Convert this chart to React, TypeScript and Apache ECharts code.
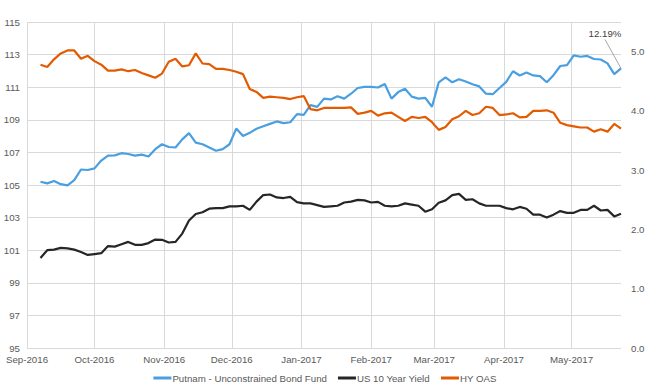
import { useEffect, useRef } from 'react';
import * as echarts from 'echarts';

// ---- data ----
const seriesNames = ['Putnam - Unconstrained Bond Fund', 'US 10 Year Yield', 'HY OAS'];
const monthNames = ['Jan', 'Feb', 'Mar', 'Apr', 'May', 'Jun', 'Jul', 'Aug', 'Sep', 'Oct', 'Nov', 'Dec'];
const axisStart = [2016, 8, 1]; // Sep 1 2016
const firstObs = [2016, 8, 7]; // Sep 7 2016
const stepDays = 3;
const endAnnotation = '12.19%';

// Putnam fund (left axis)
const putnam = [
  105.2, 105.1, 105.25, 105.05, 104.98, 105.3, 105.95, 105.92, 106.02, 106.5,
  106.8, 106.82, 106.95, 106.9, 106.8, 106.86, 106.75, 107.2, 107.5, 107.33,
  107.3, 107.8, 108.18, 107.6, 107.5, 107.3, 107.1, 107.2, 107.5, 108.46,
  108.0, 108.2, 108.45, 108.6, 108.75, 108.9, 108.8, 108.85, 109.35, 109.3,
  109.9, 109.79, 110.3, 110.25, 110.45, 110.3, 110.6, 110.95, 111.02, 111.02,
  110.98, 111.2, 110.3, 110.7, 110.9, 110.42, 110.3, 110.35, 109.8, 111.3,
  111.6, 111.3, 111.49, 111.35, 111.18, 111.05, 110.6, 110.57, 110.95, 111.33,
  111.98, 111.72, 111.9, 111.72, 111.68, 111.3, 111.74, 112.3, 112.35, 112.95,
  112.87, 112.92, 112.73, 112.7, 112.46, 111.8, 112.15,
];

// US 10 year yield (right axis)
const us10y = [
  1.52, 1.65, 1.66, 1.69, 1.68, 1.66, 1.62, 1.57, 1.585, 1.6,
  1.72, 1.71, 1.75, 1.79, 1.74, 1.74, 1.77, 1.83, 1.825, 1.78,
  1.79, 1.93, 2.15, 2.26, 2.29, 2.35, 2.36, 2.36, 2.39, 2.39,
  2.4, 2.33, 2.47, 2.58, 2.59, 2.54, 2.53, 2.55, 2.46, 2.44,
  2.44, 2.41, 2.38, 2.39, 2.4, 2.455, 2.47, 2.5, 2.49, 2.455,
  2.465, 2.4, 2.39, 2.4, 2.44, 2.42, 2.4, 2.3, 2.34, 2.45,
  2.49, 2.58, 2.6, 2.5, 2.51, 2.44, 2.4, 2.4, 2.4, 2.36,
  2.34, 2.38, 2.35, 2.25, 2.25, 2.2, 2.25, 2.31, 2.28, 2.28,
  2.33, 2.33, 2.4, 2.32, 2.33, 2.22, 2.265,
];

// HY OAS (right axis)
const hyOas = [
  4.78, 4.74, 4.87, 4.97, 5.02, 5.02, 4.88, 4.93, 4.84, 4.78,
  4.68, 4.68, 4.7, 4.67, 4.69, 4.64, 4.6, 4.56, 4.63, 4.83,
  4.88, 4.75, 4.77, 4.97, 4.8, 4.79, 4.71, 4.71, 4.69, 4.66,
  4.62, 4.37, 4.32, 4.22, 4.24, 4.23, 4.22, 4.2, 4.23, 4.25,
  4.03, 4.01, 4.05, 4.05, 4.05, 4.05, 4.06, 3.95, 3.97, 4.0,
  3.92, 3.96, 3.97, 3.9, 3.83, 3.9, 3.88, 3.9, 3.81, 3.68,
  3.73, 3.86, 3.91, 4.0, 3.93, 3.96, 4.07, 4.05, 3.93, 3.94,
  3.96, 3.89, 3.9, 4.0, 4.0, 4.01, 3.97, 3.8, 3.76, 3.74,
  3.72, 3.72, 3.65, 3.69, 3.65, 3.78, 3.7,
];

const leftAxis = { min: 95, max: 115, interval: 2 };
const rightAxis = { min: 0, max: 5.5, interval: 1 };

const colors = ['#4A9FE1', '#262626', '#E35B00'];
const FONT = '"Liberation Sans", Arial, sans-serif';
const TEXT = '#595959';
const GRID = '#D9D9D9';
const FS = 9.7;

const obsDates = putnam.map((_, i) =>
  new Date(firstObs[0], firstObs[1], firstObs[2] + i * stepDays).getTime()
);
const pairs = (vals: number[]) => vals.map((v, i) => [obsDates[i], v]);

export default function App() {
  const ref = useRef<HTMLDivElement>(null);

  useEffect(() => {
    if (!ref.current) return;
    const chart = echarts.init(ref.current, undefined, { renderer: 'svg' });
    const xMin = new Date(axisStart[0], axisStart[1], axisStart[2]).getTime();
    const xMax = obsDates[obsDates.length - 1];

    chart.setOption({
      animation: false,
      textStyle: { fontFamily: FONT },
      grid: { left: 27, right: 29, top: 22, bottom: 41 },
      legend: {
        data: seriesNames,
        left: 'center',
        top: 368,
        icon: 'rect',
        itemWidth: 18,
        itemHeight: 3,
        itemGap: 11,
        textStyle: { color: TEXT, fontSize: FS, fontFamily: FONT, padding: [0, 0, 0, -4] },
      },
      xAxis: {
        type: 'time',
        min: xMin,
        max: xMax,
        splitNumber: 9,
        axisLine: { show: false },
        axisTick: { show: false },
        splitLine: { show: true, showMaxLine: false, lineStyle: { color: GRID, width: 1 } },
        axisLabel: {
          color: TEXT,
          fontSize: FS,
          fontFamily: FONT,
          margin: 6,
          showMaxLabel: false,
          formatter: (val: number) => {
            const d = new Date(val);
            return `${monthNames[d.getMonth()]}-${d.getFullYear()}`;
          },
        },
      },
      yAxis: [
        {
          type: 'value',
          min: leftAxis.min,
          max: leftAxis.max,
          interval: leftAxis.interval,
          axisLine: { show: false },
          axisTick: { show: false },
          splitLine: { show: true, lineStyle: { color: GRID, width: 1 } },
          axisLabel: { color: TEXT, fontSize: FS, fontFamily: FONT, margin: 7 },
        },
        {
          type: 'value',
          min: rightAxis.min,
          max: rightAxis.max,
          interval: rightAxis.interval,
          axisLine: { show: false },
          axisTick: { show: false },
          splitLine: { show: false },
          axisLabel: {
            color: TEXT,
            fontSize: FS,
            fontFamily: FONT,
            margin: 10,
            showMaxLabel: false,
            formatter: (v: number) => v.toFixed(1),
          },
        },
      ],
      series: [
        {
          name: seriesNames[0],
          type: 'line',
          yAxisIndex: 0,
          data: pairs(putnam),
          showSymbol: false,
          symbol: 'none',
          lineStyle: { color: colors[0], width: 2.2 },
          itemStyle: { color: colors[0] },
          z: 3,
        },
        {
          name: seriesNames[1],
          type: 'line',
          yAxisIndex: 1,
          data: pairs(us10y),
          showSymbol: false,
          symbol: 'none',
          lineStyle: { color: colors[1], width: 2.2 },
          itemStyle: { color: colors[1] },
        },
        {
          name: seriesNames[2],
          type: 'line',
          yAxisIndex: 1,
          data: pairs(hyOas),
          showSymbol: false,
          symbol: 'none',
          lineStyle: { color: colors[2], width: 2.2 },
          itemStyle: { color: colors[2] },
        },
      ],
    });

    const last = putnam.length - 1;
    const p = chart.convertToPixel({ xAxisIndex: 0, yAxisIndex: 0 }, [obsDates[last], putnam[last]]) as number[];
    if (p) {
      chart.setOption({
        graphic: [
          {
            type: 'line',
            shape: { x1: p[0] - 16, y1: p[1] - 29, x2: p[0], y2: p[1] },
            style: { stroke: '#A6A6A6', lineWidth: 1 },
            silent: true,
          },
          {
            type: 'text',
            x: p[0] - 16,
            y: p[1] - 35,
            style: {
              text: endAnnotation,
              fill: '#404040',
              fontSize: FS,
              fontFamily: FONT,
              align: 'center',
              verticalAlign: 'middle',
            },
            silent: true,
          },
        ],
      });
    }

    return () => chart.dispose();
  }, []);

  return (
    <div
      ref={ref}
      style={{ position: 'fixed', left: 0, top: 0, width: 650, height: 389, background: '#fff' }}
    />
  );
}
